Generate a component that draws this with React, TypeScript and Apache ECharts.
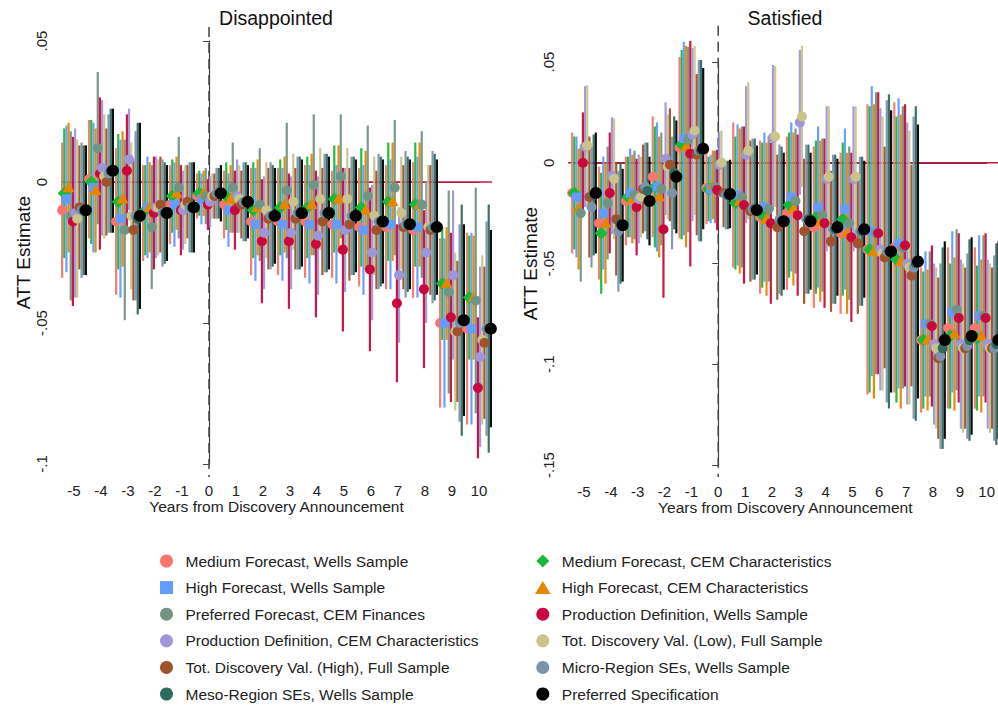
import React, { useEffect, useRef } from "react";
import * as echarts from "echarts";

const years = [-5, -4, -3, -2, -1, 0, 1, 2, 3, 4, 5, 6, 7, 8, 9, 10];

const specNames = [
  "Medium Forecast, Wells Sample",
  "Medium Forecast, CEM Characteristics",
  "High Forecast, Wells Sample",
  "High Forecast, CEM Characteristics",
  "Preferred Forecast, CEM Finances",
  "Production Definition, Wells Sample",
  "Production Definition, CEM Characteristics",
  "Tot. Discovery Val. (Low), Full Sample",
  "Tot. Discovery Val. (High), Full Sample",
  "Micro-Region SEs, Wells Sample",
  "Meso-Region SEs, Wells Sample",
  "Preferred Specification",
];
const specColors = [
  "#F8766D", "#19B83B", "#619CFF", "#E58700", "#749483", "#C9093E",
  "#9E96D8", "#CBC38A", "#A0522D", "#7D93AB", "#2E6B5E", "#000000",
];
const specShapes = [
  "circle", "diamond", "rect", "triangle", "circle", "circle",
  "circle", "circle", "circle", "circle", "circle", "circle",
];
const legendIcons: Record<string, string> = {
  circle: "circle",
  rect: "path://M0,0H10V10H0Z",
  diamond: "path://M6,0L12,6L6,12L0,6Z",
  triangle: "path://M6,0L12,10L0,10Z",
};
const specOffsets = [-0.44, -0.36, -0.28, -0.2, -0.12, -0.04, 0.04, 0.12, 0.2, 0.28, 0.36, 0.44];

// ---------- Disappointed: point estimates ----------
const disMedWells = [-0.010, 0.001, -0.014, -0.011, -0.008, -0.005, -0.008, -0.014, -0.014, -0.014, -0.015, -0.016, -0.016, -0.017, -0.050, -0.052];
const disMedCEM = [-0.004, 0.000, -0.007, -0.010, -0.005, -0.004, -0.005, -0.010, -0.009, -0.009, -0.006, -0.009, -0.007, -0.008, -0.036, -0.041];
const disHighWells = [-0.006, -0.002, -0.013, -0.009, -0.008, -0.006, -0.010, -0.015, -0.015, -0.015, -0.015, -0.017, -0.015, -0.016, -0.050, -0.052];
const disHighCEM = [-0.002, -0.003, -0.006, -0.009, -0.004, -0.004, -0.006, -0.009, -0.008, -0.008, -0.006, -0.010, -0.007, -0.008, -0.036, -0.041];
const disPrefFin = [-0.012, 0.012, -0.017, -0.016, -0.002, -0.005, -0.002, -0.008, -0.003, -0.001, 0.002, -0.005, -0.002, -0.008, -0.039, -0.042];
const disProdWells = [-0.014, 0.003, 0.004, -0.011, -0.010, -0.008, -0.010, -0.021, -0.021, -0.022, -0.024, -0.031, -0.043, -0.038, -0.048, -0.073];
const disProdCEM = [-0.011, 0.005, 0.008, -0.009, -0.010, -0.007, -0.005, -0.018, -0.018, -0.019, -0.017, -0.025, -0.033, -0.025, -0.033, -0.062];
const disTotLow = [-0.013, 0.002, -0.012, -0.009, -0.008, -0.005, -0.006, -0.010, -0.007, -0.006, -0.006, -0.012, -0.011, -0.016, -0.053, -0.056];
const disTotHigh = [-0.009, 0.000, -0.017, -0.008, -0.007, -0.005, -0.008, -0.013, -0.013, -0.014, -0.015, -0.017, -0.016, -0.017, -0.053, -0.057];
const disMicro = [-0.010, 0.003, -0.012, -0.011, -0.009, -0.004, -0.007, -0.012, -0.011, -0.011, -0.012, -0.014, -0.015, -0.016, -0.050, -0.052];
const disMeso = [-0.010, 0.004, -0.013, -0.011, -0.009, -0.004, -0.007, -0.012, -0.011, -0.011, -0.012, -0.014, -0.015, -0.016, -0.049, -0.052];
const disPref = [-0.010, 0.004, -0.012, -0.011, -0.009, -0.004, -0.007, -0.012, -0.011, -0.011, -0.012, -0.014, -0.015, -0.016, -0.049, -0.052];

// ---------- Disappointed: 95% CI half-widths ----------
const disMedWellsCI = [0.024, 0.021, 0.026, 0.017, 0.014, 0.008, 0.012, 0.019, 0.019, 0.020, 0.019, 0.021, 0.022, 0.024, 0.030, 0.034];
const disMedCEMCI = [0.023, 0.022, 0.024, 0.016, 0.013, 0.008, 0.012, 0.017, 0.017, 0.018, 0.019, 0.021, 0.021, 0.022, 0.020, 0.022];
const disHighWellsCI = [0.026, 0.023, 0.028, 0.018, 0.015, 0.009, 0.013, 0.020, 0.020, 0.021, 0.021, 0.023, 0.023, 0.025, 0.030, 0.034];
const disHighCEMCI = [0.023, 0.022, 0.024, 0.016, 0.013, 0.008, 0.012, 0.017, 0.017, 0.018, 0.019, 0.021, 0.021, 0.022, 0.020, 0.022];
const disPrefFinCI = [0.030, 0.027, 0.032, 0.022, 0.018, 0.010, 0.016, 0.020, 0.024, 0.025, 0.022, 0.025, 0.024, 0.026, 0.036, 0.040];
const disProdWellsCI = [0.030, 0.027, 0.020, 0.020, 0.016, 0.009, 0.014, 0.022, 0.024, 0.026, 0.029, 0.029, 0.028, 0.028, 0.030, 0.025];
const disProdCEMCI = [0.030, 0.024, 0.018, 0.018, 0.014, 0.009, 0.013, 0.020, 0.020, 0.021, 0.022, 0.024, 0.024, 0.025, 0.030, 0.032];
const disTotLowCI = [0.028, 0.022, 0.026, 0.017, 0.014, 0.008, 0.012, 0.017, 0.017, 0.018, 0.018, 0.021, 0.020, 0.022, 0.028, 0.030];
const disTotHighCI = [0.022, 0.019, 0.025, 0.017, 0.013, 0.008, 0.012, 0.018, 0.018, 0.019, 0.020, 0.021, 0.022, 0.023, 0.025, 0.027];
const disMicroCI = [0.024, 0.021, 0.030, 0.019, 0.016, 0.009, 0.014, 0.019, 0.020, 0.021, 0.021, 0.024, 0.026, 0.027, 0.035, 0.038];
const disMesoCI = [0.023, 0.022, 0.034, 0.018, 0.016, 0.009, 0.014, 0.018, 0.020, 0.021, 0.021, 0.023, 0.024, 0.026, 0.041, 0.044];
const disPrefCI = [0.023, 0.022, 0.033, 0.017, 0.016, 0.010, 0.013, 0.017, 0.019, 0.020, 0.020, 0.022, 0.023, 0.024, 0.034, 0.035];

// ---------- Satisfied: point estimates ----------
const satMedWells = [-0.015, -0.030, -0.019, -0.007, 0.0075, -0.0125, -0.016, -0.027, -0.025, -0.032, -0.035, -0.043, -0.042, -0.088, -0.082, -0.082];
const satMedCEM = [-0.015, -0.035, -0.017, -0.012, 0.009, -0.013, -0.020, -0.026, -0.021, -0.027, -0.028, -0.043, -0.048, -0.088, -0.086, -0.087];
const satHighWells = [-0.017, -0.025, -0.015, -0.012, 0.012, -0.013, -0.016, -0.022, -0.017, -0.022, -0.023, -0.034, -0.040, -0.080, -0.074, -0.076];
const satHighCEM = [-0.023, -0.030, -0.018, -0.017, 0.008, -0.011, -0.019, -0.028, -0.023, -0.029, -0.035, -0.044, -0.049, -0.088, -0.085, -0.086];
const satPrefFin = [-0.025, -0.020, -0.016, -0.013, 0.0115, -0.012, -0.017, -0.023, -0.019, -0.026, -0.030, -0.035, -0.042, -0.080, -0.073, -0.076];
const satProdWells = [0.000, -0.015, -0.022, -0.033, 0.0045, -0.0135, -0.021, -0.030, -0.026, -0.030, -0.037, -0.035, -0.041, -0.081, -0.077, -0.077];
const satProdCEM = [0.008, -0.0065, -0.018, 0.002, 0.014, -0.001, 0.004, 0.0125, 0.020, -0.008, -0.008, -0.043, -0.050, -0.090, -0.090, -0.090];
const satTotLow = [0.0085, -0.008, -0.017, -0.002, 0.016, 0.000, 0.006, 0.013, 0.023, -0.007, -0.007, -0.045, -0.052, -0.092, -0.092, -0.092];
const satTotHigh = [-0.017, -0.028, -0.013, -0.001, 0.004, -0.015, -0.024, -0.032, -0.034, -0.039, -0.040, -0.047, -0.056, -0.097, -0.092, -0.092];
const satMicro = [-0.022, -0.034, -0.012, -0.015, 0.006, -0.016, -0.023, -0.028, -0.028, -0.033, -0.034, -0.044, -0.052, -0.096, -0.091, -0.092];
const satMeso = [-0.016, -0.030, -0.014, -0.005, 0.006, -0.016, -0.023, -0.029, -0.028, -0.033, -0.034, -0.044, -0.050, -0.092, -0.088, -0.090];
const satPref = [-0.015, -0.031, -0.019, -0.007, 0.007, -0.0155, -0.0235, -0.029, -0.029, -0.032, -0.033, -0.044, -0.049, -0.088, -0.086, -0.088];

// ---------- Satisfied: 95% CI half-widths ----------
const satMedWellsCI = [0.030, 0.028, 0.022, 0.030, 0.045, 0.018, 0.036, 0.038, 0.038, 0.040, 0.040, 0.072, 0.072, 0.036, 0.040, 0.040];
const satMedCEMCI = [0.028, 0.030, 0.020, 0.030, 0.047, 0.016, 0.033, 0.036, 0.036, 0.038, 0.038, 0.071, 0.071, 0.034, 0.036, 0.036];
const satHighWellsCI = [0.030, 0.028, 0.022, 0.032, 0.048, 0.017, 0.035, 0.037, 0.037, 0.040, 0.040, 0.072, 0.072, 0.036, 0.040, 0.040];
const satHighCEMCI = [0.030, 0.030, 0.022, 0.030, 0.050, 0.017, 0.036, 0.038, 0.038, 0.040, 0.040, 0.073, 0.073, 0.035, 0.038, 0.038];
const satPrefFinCI = [0.034, 0.028, 0.022, 0.028, 0.046, 0.018, 0.035, 0.036, 0.036, 0.038, 0.038, 0.070, 0.070, 0.036, 0.040, 0.040];
const satProdWellsCI = [0.025, 0.030, 0.024, 0.034, 0.056, 0.020, 0.039, 0.040, 0.040, 0.042, 0.042, 0.070, 0.070, 0.040, 0.042, 0.042];
const satProdCEMCI = [0.030, 0.029, 0.022, 0.028, 0.043, 0.016, 0.034, 0.036, 0.036, 0.036, 0.036, 0.070, 0.070, 0.040, 0.042, 0.042];
const satTotLowCI = [0.030, 0.030, 0.020, 0.026, 0.042, 0.016, 0.034, 0.035, 0.035, 0.035, 0.035, 0.068, 0.068, 0.040, 0.042, 0.042];
const satTotHighCI = [0.030, 0.028, 0.022, 0.028, 0.040, 0.017, 0.035, 0.036, 0.036, 0.035, 0.035, 0.055, 0.055, 0.040, 0.040, 0.040];
const satMicroCI = [0.030, 0.030, 0.022, 0.028, 0.045, 0.017, 0.035, 0.037, 0.037, 0.037, 0.037, 0.075, 0.075, 0.046, 0.046, 0.046];
const satMesoCI = [0.030, 0.030, 0.024, 0.028, 0.045, 0.017, 0.035, 0.037, 0.037, 0.037, 0.037, 0.078, 0.078, 0.050, 0.050, 0.050];
const satPrefCI = [0.030, 0.028, 0.022, 0.028, 0.040, 0.017, 0.032, 0.034, 0.034, 0.034, 0.034, 0.070, 0.068, 0.049, 0.049, 0.049];

// axis ranges / tick labels
const panelTitles = ["Disappointed", "Satisfied"];
const yTickLabels: Record<string, string> = { "0.05": ".05", "0": "0", "-0.05": "-.05", "-0.1": "-.1", "-0.15": "-.15" };
const disYRange = [-0.1, 0.05];
const satYRange = [-0.15, 0.05];
// reference lines: horizontal zero line x-span, vertical dashed line y-span
const disZeroSpan = [-5.48, 10.48];
const satZeroSpan = [-5.6, 10.8];
const disDashSpan = [0.055, -0.1046];
const satDashSpan = [0.068, -0.156];

const disEst = [disMedWells, disMedCEM, disHighWells, disHighCEM, disPrefFin, disProdWells, disProdCEM, disTotLow, disTotHigh, disMicro, disMeso, disPref];
const disCI = [disMedWellsCI, disMedCEMCI, disHighWellsCI, disHighCEMCI, disPrefFinCI, disProdWellsCI, disProdCEMCI, disTotLowCI, disTotHighCI, disMicroCI, disMesoCI, disPrefCI];
const satEst = [satMedWells, satMedCEM, satHighWells, satHighCEM, satPrefFin, satProdWells, satProdCEM, satTotLow, satTotHigh, satMicro, satMeso, satPref];
const satCI = [satMedWellsCI, satMedCEMCI, satHighWellsCI, satHighCEMCI, satPrefFinCI, satProdWellsCI, satProdCEMCI, satTotLowCI, satTotHighCI, satMicroCI, satMesoCI, satPrefCI];

const FONT = "Liberation Sans, Arial, sans-serif";

function markerShape(shape: string, cx: number, cy: number, color: string, big: boolean) {
  const style = { fill: color, stroke: "none" };
  if (shape === "rect") return { type: "rect", shape: { x: cx - 4.5, y: cy - 4.5, width: 9, height: 9 }, style };
  if (shape === "diamond")
    return { type: "polygon", shape: { points: [[cx, cy - 6.5], [cx + 6.5, cy], [cx, cy + 6.5], [cx - 6.5, cy]] }, style };
  if (shape === "triangle")
    return { type: "polygon", shape: { points: [[cx, cy - 6.5], [cx + 6, cy + 4.5], [cx - 6, cy + 4.5]] }, style };
  return { type: "circle", shape: { cx, cy, r: big ? 6 : 5 }, style };
}

function buildPanel(p: number, est: number[][], ci: number[][], zeroSpan: number[], dashSpan: number[]) {
  const series: any[] = [];
  series.push({
    type: "custom",
    name: "ref" + p,
    xAxisIndex: p,
    yAxisIndex: p,
    silent: true,
    z: 1,
    data: [[zeroSpan[0], zeroSpan[1], dashSpan[0], dashSpan[1]]],
    renderItem: (params: any, api: any) => {
      const a = api.coord([api.value(0), 0]);
      const b = api.coord([api.value(1), 0]);
      const c = api.coord([0, api.value(2)]);
      const d = api.coord([0, api.value(3)]);
      return {
        type: "group",
        children: [
          { type: "line", shape: { x1: a[0], y1: a[1], x2: b[0], y2: b[1] }, style: { stroke: "#C8143F", lineWidth: 1.6 } },
          { type: "line", shape: { x1: c[0], y1: c[1], x2: d[0], y2: d[1] }, style: { stroke: "#444", lineWidth: 1.5, lineDash: [10, 6] } },
        ],
      };
    },
  });
  specNames.forEach((name, i) => {
    const data = years.map((y, k) => [y + specOffsets[i], est[i][k], est[i][k] - ci[i][k], est[i][k] + ci[i][k]]);
    series.push({
      type: "custom",
      name: "ci-" + name,
      xAxisIndex: p,
      yAxisIndex: p,
      silent: true,
      z: 2,
      data,
      renderItem: (params: any, api: any) => {
        const lo = api.coord([api.value(0), api.value(2)]);
        const hi = api.coord([api.value(0), api.value(3)]);
        return { type: "line", shape: { x1: lo[0], y1: lo[1], x2: hi[0], y2: hi[1] }, style: { stroke: specColors[i], lineWidth: 2.2, opacity: 0.95 } };
      },
    });
  });
  specNames.forEach((name, i) => {
    const data = years.map((y, k) => [y + specOffsets[i], est[i][k]]);
    series.push({
      type: "custom",
      name,
      xAxisIndex: p,
      yAxisIndex: p,
      z: 3,
      itemStyle: { color: specColors[i] },
      data,
      renderItem: (params: any, api: any) => {
        const pt = api.coord([api.value(0), api.value(1)]);
        return markerShape(specShapes[i], pt[0], pt[1], specColors[i], i === 11);
      },
    });
  });
  return series;
}

function xAxisFor(p: number) {
  return {
    type: "value",
    gridIndex: p,
    min: -5,
    max: 10,
    interval: 1,
    position: "bottom",
    offset: 13,
    name: "Years from Discovery Announcement",
    nameLocation: "middle",
    nameGap: 21,
    nameMoveOverlap: false,
    nameTextStyle: { fontSize: 15.5, color: "#222", fontFamily: FONT },
    axisLine: { show: true, lineStyle: { color: "#444", width: 1.2 } },
    axisTick: { show: false },
    axisLabel: { fontSize: 15, color: "#222", margin: 6, fontFamily: FONT },
    splitLine: { show: false },
  };
}

function yAxisFor(p: number, range: number[], offset: number) {
  return {
    type: "value",
    gridIndex: p,
    min: range[0],
    max: range[1],
    interval: 0.05,
    offset,
    name: "ATT Estimate",
    nameLocation: "middle",
    nameRotate: 90,
    nameGap: 28,
    nameMoveOverlap: false,
    nameTextStyle: { fontSize: 19, color: "#111", fontFamily: FONT },
    axisLine: { show: true, lineStyle: { color: "#444", width: 1.2 } },
    axisTick: { show: true, length: 6, lineStyle: { color: "#444" } },
    axisLabel: {
      fontSize: 15,
      color: "#222",
      rotate: 90,
      margin: 12,
      fontFamily: FONT,
      formatter: (v: number) => yTickLabels[String(Math.round(v * 100) / 100)] ?? String(v),
    },
    splitLine: { show: false },
  };
}

export default function App() {
  const ref = useRef<HTMLDivElement>(null);
  useEffect(() => {
    document.body.style.margin = "0";
    if (!ref.current) return;
    const chart = echarts.init(ref.current, undefined, { renderer: "svg" });
    const col1 = [0, 2, 4, 6, 8, 10];
    const col2 = [1, 3, 5, 7, 9, 11];
    const legendItem = (i: number) => ({ name: specNames[i], icon: legendIcons[specShapes[i]], itemStyle: { color: specColors[i] } });
    const legendBase = {
      orient: "vertical",
      top: 553,
      height: 400,
      padding: 0,
      itemWidth: 28,
      itemHeight: 13,
      itemGap: 10.6,
      selectedMode: false,
      textStyle: { fontSize: 15.5, lineHeight: 14, color: "#222", fontFamily: FONT },
    };
    chart.setOption({
      animation: false,
      backgroundColor: "#fff",
      textStyle: { fontFamily: FONT },
      title: [
        { text: panelTitles[0], left: 271, top: 3, textAlign: "center", textStyle: { fontSize: 19.5, fontWeight: "normal", color: "#111", fontFamily: FONT } },
        { text: panelTitles[1], left: 780, top: 3, textAlign: "center", textStyle: { fontSize: 19.5, fontWeight: "normal", color: "#111", fontFamily: FONT } },
      ],
      legend: [
        { ...legendBase, left: 160, data: col1.map(legendItem) },
        { ...legendBase, left: 535, data: col2.map(legendItem) },
      ],
      grid: [
        { left: 74, top: 41, width: 405, height: 423 },
        { left: 584, top: 62, width: 404, height: 403 },
      ],
      xAxis: [xAxisFor(0), xAxisFor(1)],
      yAxis: [yAxisFor(0, disYRange, 13), yAxisFor(1, satYRange, 16)],
      series: [
        ...buildPanel(0, disEst, disCI, disZeroSpan, disDashSpan),
        ...buildPanel(1, satEst, satCI, satZeroSpan, satDashSpan),
      ],
    });
    return () => chart.dispose();
  }, []);
  return <div ref={ref} style={{ width: 998, height: 708 }} />;
}
